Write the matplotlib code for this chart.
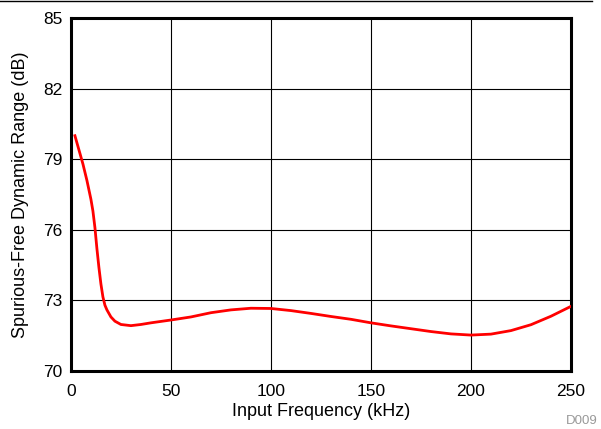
import matplotlib
matplotlib.use('Agg')
import matplotlib.pyplot as plt
from matplotlib.lines import Line2D

plt.rcParams['font.family'] = ['Liberation Sans', 'DejaVu Sans']

# Spurious-free dynamic range vs input frequency
freq_khz = [2, 4, 6, 8, 10, 11, 12, 13, 14, 15, 16, 17, 18, 20, 22, 25, 30, 35,
            40, 50, 60, 70, 80, 90, 100, 110, 120, 130, 140, 150, 160, 170,
            180, 190, 200, 210, 220, 230, 240, 250]
sfdr_db = [80.0, 79.4, 78.8, 78.1, 77.3, 76.8, 76.1, 75.2, 74.4, 73.7, 73.15,
           72.8, 72.6, 72.3, 72.12, 71.98, 71.93, 71.98, 72.05, 72.17, 72.3,
           72.48, 72.6, 72.67, 72.66, 72.57, 72.45, 72.32, 72.2, 72.05, 71.92,
           71.8, 71.68, 71.58, 71.53, 71.57, 71.72, 71.97, 72.33, 72.75]

x_ticks = [0, 50, 100, 150, 200, 250]
y_ticks = [70, 73, 76, 79, 82, 85]

fig = plt.figure(figsize=(6.01, 4.29), dpi=100)
ax = fig.add_axes([0.118, 0.135, 0.832, 0.823])

ax.plot(freq_khz, sfdr_db, color='#ff0000', linewidth=2.0, zorder=3)

ax.set_xlim(0, 250)
ax.set_ylim(70, 85)
ax.set_xticks(x_ticks)
ax.set_yticks(y_ticks)
ax.tick_params(length=0, labelsize=12.5)
ax.tick_params(axis='x', pad=9)
ax.tick_params(axis='y', pad=6)
ax.grid(True, color='black', linewidth=0.8)
for s in ax.spines.values():
    s.set_linewidth(2.2)
    s.set_color('black')

ax.set_xlabel('Input Frequency (kHz)', fontsize=13, labelpad=3)
ax.set_ylabel('Spurious-Free Dynamic Range (dB)', fontsize=13, labelpad=10)

# thin rule across the top of the figure
fig.add_artist(Line2D([0.0, 0.985], [0.997, 0.997], color='black', linewidth=1.0))
fig.text(0.995, 0.004, 'D009', color='#999999', fontsize=9.5, ha='right', va='bottom')

plt.savefig('out.png', dpi=100)
